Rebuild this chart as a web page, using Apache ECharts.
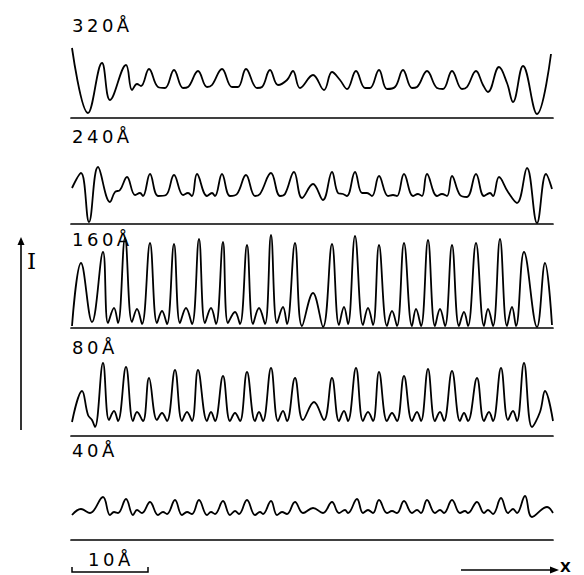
<!DOCTYPE html>
<html>
<head>
<meta charset="utf-8">
<script src="https://cdn.jsdelivr.net/npm/echarts@6/dist/echarts.min.js"></script>
<style>
  html, body { margin: 0; padding: 0; background: #fff; }
  #main { width: 584px; height: 575px; }
  /* the labels in the figure are set with wide letter spacing */
  #main svg text { letter-spacing: 3.5px; }
</style>
</head>
<body>
<div id="main"></div>
<script>
// intensity profiles: [position along x, intensity above baseline]
var scan320 = [[1,70],[17,5],[31,55],[39,18],[55,53],[61,28],[66,34],[70,32],[78,49],[87,31],[94,30],
  [103,48],[112,30],[117,31],[127,47],[136,31],[141,33],[151,49],[161,31],[167,31],[175,49],[186,30],
  [191,31],[199,48],[207,33],[216,38],[222,47],[229,30],[242,43],[253,28],[261,46],[269,38],[276,29],
  [285,47],[294,30],[299,30],[308,48],[316,29],[324,31],[332,48],[341,30],[346,31],[356,47],[366,30],
  [372,29],[381,47],[391,29],[396,31],[405,47],[412,33],[417,26],[428,51],[436,35],[442,16],[452,52],
  [466,4],[480,64]];

var scan240 = [[1,36],[10,51],[18,2],[27,57],[39,22],[44,32],[49,34],[56,47],[64,29],[69,31],[72,28],
  [79,50],[87,28],[95,29],[103,49],[112,29],[117,31],[121,28],[126,50],[136,28],[141,31],[144,28],
  [151,50],[159,28],[166,30],[175,49],[184,28],[189,30],[200,51],[209,28],[214,30],[223,52],[231,26],
  [242,40],[252,24],[261,52],[267,31],[272,30],[276,28],[284,52],[291,31],[296,31],[301,28],[308,48],
  [317,28],[322,29],[326,28],[333,50],[342,28],[347,30],[351,28],[356,50],[366,28],[371,30],[376,28],
  [381,48],[389,29],[396,27],[405,50],[413,28],[419,31],[422,28],[428,47],[437,32],[446,21],[456,56],
  [466,1],[475,50],[481,35]];

var scan160 = [[1,2],[10,65],[21,6],[32,76],[37,5],[43,20],[47,5],[54,90],[61,6],[66,19],[71,4],
  [79,85],[86,5],[91,17],[96,4],[103,84],[109,5],[115,20],[121,4],[128,89],[134,5],[140,20],[145,4],
  [152,86],[157,5],[164,16],[169,4],[176,83],[182,4],[188,20],[194,4],[200,93],[206,5],[212,21],[216,4],
  [224,85],[231,2],[242,35],[252,1],[261,84],[268,3],[273,21],[277,4],[284,92],[292,3],[297,20],[302,3],
  [308,83],[316,2],[321,17],[326,2],[333,85],[341,2],[345,19],[350,2],[357,88],[364,2],[369,19],[374,2],
  [381,83],[388,2],[393,16],[397,2],[405,85],[413,2],[417,19],[422,2],[429,89],[436,2],[441,21],[445,2],
  [453,76],[466,1],[474,65],[481,3]];

var scan80 = [[1,14],[11,45],[17,21],[21,16],[24,9],[32,73],[38,16],[43,25],[47,15],[55,69],[62,15],
  [66,24],[72,15],[78,58],[86,16],[91,23],[96,15],[104,66],[111,15],[116,24],[121,15],[127,66],[136,15],
  [140,24],[144,15],[152,60],[159,15],[164,23],[169,15],[176,64],[184,15],[188,24],[192,15],[200,68],
  [207,15],[212,25],[216,15],[224,58],[232,16],[243,34],[253,16],[261,58],[268,15],[273,25],[277,15],
  [285,68],[292,15],[297,24],[302,15],[308,64],[316,15],[321,23],[326,15],[333,60],[341,15],[346,24],
  [350,15],[357,67],[364,15],[369,24],[373,15],[381,65],[389,15],[393,23],[397,15],[406,58],[413,15],
  [418,24],[422,15],[430,68],[437,16],[442,25],[446,15],[453,73],[461,9],[469,24],[474,45],[482,15]];

var scan40 = [[1,25],[10,31],[19,27],[32,43],[39,25],[43,28],[47,27],[55,41],[62,25],[66,30],[71,27],
  [79,38],[87,25],[92,28],[96,26],[104,40],[111,25],[116,28],[121,26],[128,40],[136,25],[140,28],
  [144,26],[152,39],[159,25],[164,29],[168,26],[176,40],[184,25],[189,28],[192,26],[200,39],[206,25],
  [211,28],[216,26],[224,38],[232,27],[242,32],[252,27],[261,38],[268,27],[274,30],[277,27],[286,41],
  [292,27],[297,30],[302,27],[308,40],[316,27],[321,29],[326,27],[333,39],[341,27],[346,30],[350,27],
  [356,40],[364,27],[369,30],[373,27],[381,40],[389,27],[394,29],[397,27],[406,38],[413,27],[417,30],
  [422,26],[430,42],[437,27],[442,31],[446,27],[454,44],[461,23],[476,33],[482,27]];

var panelLabels = ['320Å', '240Å', '160Å', '80Å', '40Å'];
var scans = [scan320, scan240, scan160, scan80, scan40];

var baselines = [118, 224, 328, 436, 540];
var labelY = [25, 136, 239, 347, 450];

var chart = echarts.init(document.getElementById('main'), null, {renderer: 'svg'});

var grids = [], xAxes = [], yAxes = [], series = [], graphics = [];
for (var i = 0; i < scans.length; i++) {
    grids.push({left: 71, width: 482, top: baselines[i] - 100, height: 100});
    xAxes.push({
        type: 'value', gridIndex: i, min: 0, max: 482,
        axisLine: {show: true, lineStyle: {color: '#000', width: 1.7}},
        axisTick: {show: false}, axisLabel: {show: false}, splitLine: {show: false}
    });
    yAxes.push({type: 'value', gridIndex: i, min: 0, max: 100, show: false});
    series.push({
        type: 'line', xAxisIndex: i, yAxisIndex: i,
        data: scans[i], smooth: 0.4, symbol: 'none',
        lineStyle: {color: '#000', width: 1.8}
    });
    graphics.push({
        type: 'text', x: 72, y: labelY[i],
        style: {text: panelLabels[i], font: '18px "DejaVu Sans"', fill: '#000', verticalAlign: 'middle'}
    });
}

// intensity arrow on the left
graphics.push({type: 'line', shape: {x1: 21, y1: 244, x2: 21, y2: 430}, style: {stroke: '#000', lineWidth: 1.6}});
graphics.push({type: 'polygon', shape: {points: [[21, 237], [17.5, 245], [24.5, 245]]}, style: {fill: '#000'}});
graphics.push({type: 'text', x: 27, y: 261,
    style: {text: 'I', font: '23px "DejaVu Serif"', fill: '#000', verticalAlign: 'middle'}});

// 10 Å scale bar
graphics.push({type: 'polyline', shape: {points: [[72, 567], [72, 572], [148, 572], [148, 567]]},
    style: {stroke: '#000', lineWidth: 1.5, fill: null}});
graphics.push({type: 'text', x: 88, y: 559,
    style: {text: '10Å', font: '18px "DejaVu Sans"', fill: '#000', verticalAlign: 'middle'}});

// x direction arrow
graphics.push({type: 'line', shape: {x1: 461, y1: 570, x2: 552, y2: 570}, style: {stroke: '#000', lineWidth: 1.6}});
graphics.push({type: 'polygon', shape: {points: [[559, 570], [550, 566.5], [550, 573.5]]}, style: {fill: '#000'}});
graphics.push({type: 'text', x: 560, y: 567,
    style: {text: 'X', font: 'bold 14px "DejaVu Sans"', fill: '#000', verticalAlign: 'middle'}});

chart.setOption({
    animation: false,
    backgroundColor: '#fff',
    grid: grids,
    xAxis: xAxes,
    yAxis: yAxes,
    series: series,
    graphic: graphics
});
</script>
</body>
</html>
